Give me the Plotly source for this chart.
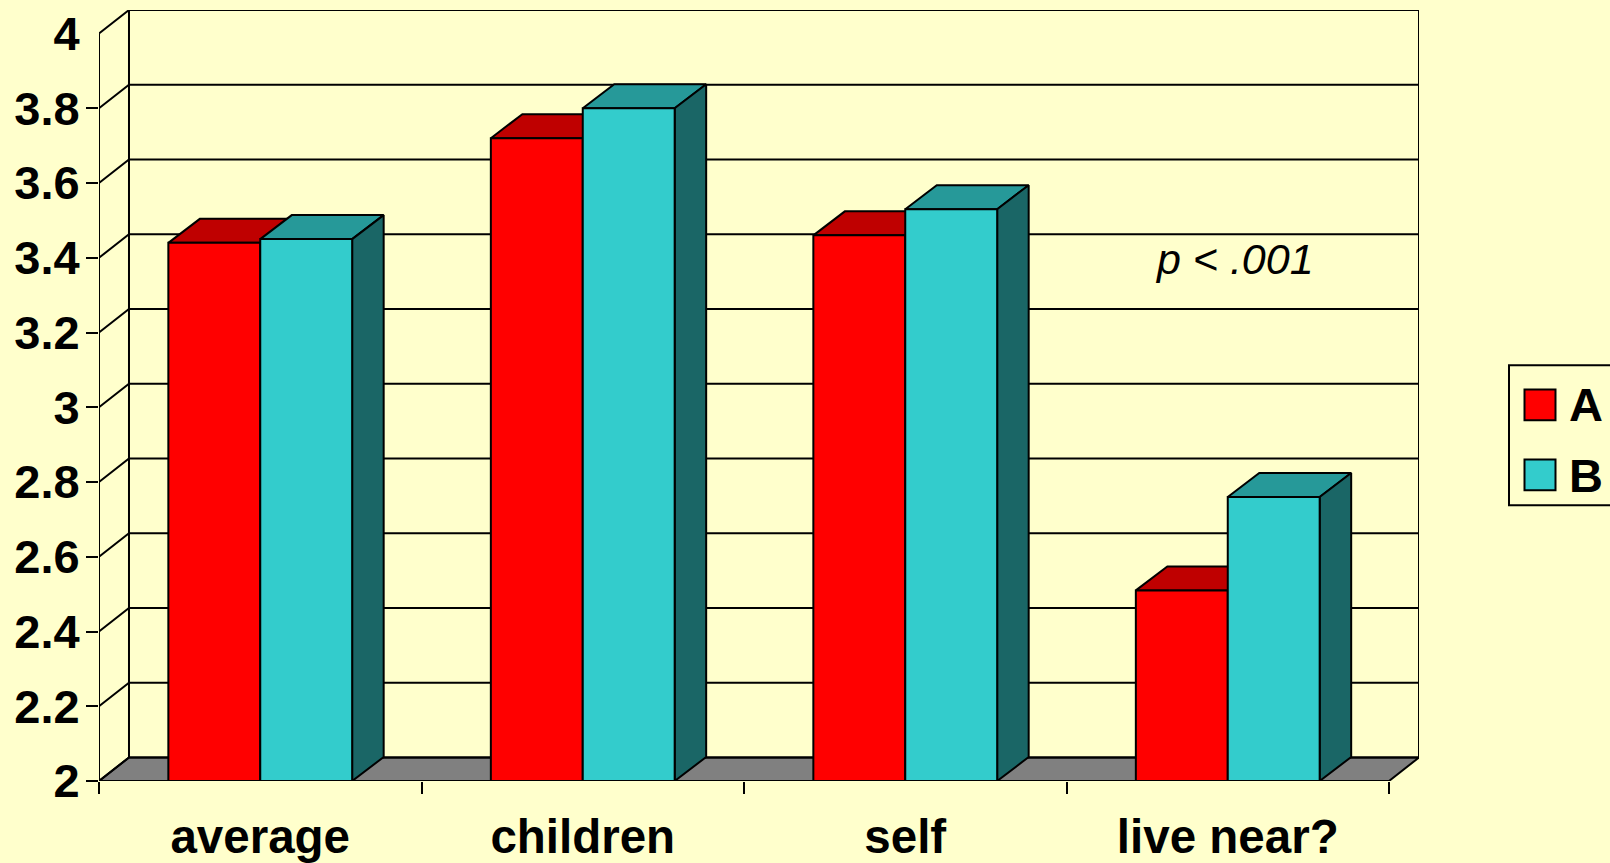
import plotly.graph_objects as go

categories = ['average', 'children', 'self', 'live near?']
series_a = [3.44, 3.72, 3.46, 2.51]
series_b = [3.45, 3.80, 3.53, 2.76]
y_ticks = [2, 2.2, 2.4, 2.6, 2.8, 3, 3.2, 3.4, 3.6, 3.8, 4]
y_labels = ['2', '2.2', '2.4', '2.6', '2.8', '3', '3.2', '3.4', '3.6', '3.8', '4']

BG = '#FFFFCC'
RED, RED_TOP = '#FF0000', '#BF0000'
TEAL, TEAL_TOP, TEAL_SIDE = '#33CCCC', '#269999', '#1A6666'
FONT = 'Liberation Sans, Arial, sans-serif'
LINE = 2

# fake 3d depth, in axis units
WALL_DX, WALL_DY = 0.093, 0.063
BAR_DX, BAR_DY = 0.0977, 0.0642
BARGAP = 0.43
BAR_W = (1 - BARGAP) / 2

x_max = len(categories)
y_min, y_max = y_ticks[0], y_ticks[-1]
centers = [i + 0.5 for i in range(x_max)]


def line_trace(xs, ys, axes=('x', 'y'), width=LINE):
    return go.Scatter(x=xs, y=ys, mode='lines', xaxis=axes[0], yaxis=axes[1],
                      line=dict(color='black', width=width), cliponaxis=False,
                      showlegend=False, hoverinfo='skip')


def faces_trace(polys, color):
    xs, ys = [], []
    for poly in polys:
        xs += [p[0] for p in poly] + [poly[0][0], None]
        ys += [p[1] for p in poly] + [poly[0][1], None]
    return go.Scatter(x=xs, y=ys, mode='lines', fill='toself', fillcolor=color,
                      line=dict(color='black', width=LINE), cliponaxis=False,
                      showlegend=False, hoverinfo='skip')


def top_faces(values, shift):
    polys = []
    for c, v in zip(centers, values):
        l, r = c + shift, c + shift + BAR_W
        polys.append([(l, v), (r, v), (r + BAR_DX, v + BAR_DY), (l + BAR_DX, v + BAR_DY)])
    return polys


def side_faces(values, shift):
    polys = []
    for c, v in zip(centers, values):
        r = c + shift + BAR_W
        polys.append([(r, v), (r + BAR_DX, v + BAR_DY), (r + BAR_DX, y_min + BAR_DY), (r, y_min)])
    return polys


fig = go.Figure()

# floor
fig.add_trace(faces_trace([[(0, y_min), (x_max, y_min),
                            (x_max + WALL_DX, y_min + WALL_DY), (WALL_DX, y_min + WALL_DY)]], '#808080'))

# walls and grid
for v in y_ticks:
    fig.add_trace(line_trace([0, WALL_DX, x_max + WALL_DX], [v, v + WALL_DY, v + WALL_DY]))
fig.add_trace(line_trace([0, 0], [y_min, y_max]))
fig.add_trace(line_trace([WALL_DX, WALL_DX], [y_min + WALL_DY, y_max + WALL_DY]))
fig.add_trace(line_trace([x_max + WALL_DX, x_max + WALL_DX], [y_min + WALL_DY, y_max + WALL_DY]))

# bar tops and sides
fig.add_trace(faces_trace(top_faces(series_a, -BAR_W), RED_TOP))
fig.add_trace(faces_trace(top_faces(series_b, 0), TEAL_TOP))
fig.add_trace(faces_trace(side_faces(series_b, 0), TEAL_SIDE))

# bar fronts sit on the overlay axes so they cover the faces above
fig.add_trace(go.Bar(x=centers, y=series_a, name='A', xaxis='x2', yaxis='y2', showlegend=False,
                     marker=dict(color=RED, line=dict(color='black', width=LINE))))
fig.add_trace(go.Bar(x=centers, y=series_b, name='B', xaxis='x2', yaxis='y2', showlegend=False,
                     marker=dict(color=TEAL, line=dict(color='black', width=LINE))))
fig.add_trace(line_trace([0, x_max], [y_min, y_min], axes=('x2', 'y2')))

x_range = [0, x_max + WALL_DX]
y_range = [y_min, y_max + WALL_DY]
y_font = dict(family=FONT, size=47, color='black', weight='bold')
x_font = dict(family=FONT, size=47.5, color='black', weight='bold')

# legend is drawn by hand, the built in swatches can't get this big
shapes = []
W, H = 1320, 770.7


def px_x(p):
    return (p - 99) / W


def px_y(p):
    return (780.7 - p) / H


shapes.append(dict(type='rect', xref='paper', yref='paper', x0=px_x(1509), x1=px_x(1625),
                   y0=px_y(505), y1=px_y(365), line=dict(color='black', width=LINE)))
for color, top, bottom in [(RED, 389.3, 420), (TEAL, 459.3, 490)]:
    shapes.append(dict(type='rect', xref='paper', yref='paper', x0=px_x(1524.5), x1=px_x(1555.5),
                       y0=px_y(bottom), y1=px_y(top), fillcolor=color, line=dict(color='black', width=LINE)))

annotations = [
    dict(x=3.522, y=3.396, xref='x', yref='y', text='<i>p &lt; .001</i>', showarrow=False,
         font=dict(family=FONT, size=43, color='black')),
    dict(x=px_x(1567), y=px_y(404), xref='paper', yref='paper', text='<b>A</b>', showarrow=False,
         xanchor='left', font=dict(family=FONT, size=47, color='black')),
    dict(x=px_x(1567), y=px_y(475), xref='paper', yref='paper', text='<b>B</b>', showarrow=False,
         xanchor='left', font=dict(family=FONT, size=47, color='black')),
]

fig.update_layout(
    width=1610, height=863,
    margin=dict(l=99, r=191, t=10, b=82.3),
    paper_bgcolor=BG, plot_bgcolor=BG,
    barmode='group', bargap=BARGAP, bargroupgap=0,
    showlegend=False,
    shapes=shapes, annotations=annotations,
    xaxis=dict(range=x_range, showgrid=False, zeroline=False, showline=False, automargin=False,
               tickmode='array', tickvals=list(range(x_max + 1)), ticktext=[''] * (x_max + 1),
               ticks='outside', ticklen=12, tickwidth=LINE, tickcolor='black'),
    # tick marks stop at 3.8, the labels live on the overlay axis
    yaxis=dict(range=y_range, showgrid=False, zeroline=False, showline=False, automargin=False,
               tickmode='array', tickvals=y_ticks[:-1], ticktext=[''] * (len(y_ticks) - 1),
               ticks='outside', ticklen=12, tickwidth=LINE, tickcolor='black'),
    xaxis2=dict(range=x_range, overlaying='x', anchor='y2', showgrid=False, zeroline=False, showline=False,
                automargin=False, tickmode='array', tickvals=centers, ticktext=categories, tickfont=x_font,
                ticks='outside', ticklen=14, tickcolor='rgba(0,0,0,0)'),
    yaxis2=dict(range=y_range, overlaying='y', anchor='x2', showgrid=False, zeroline=False, showline=False,
                automargin=False, tickmode='array', tickvals=y_ticks, ticktext=y_labels, tickfont=y_font,
                ticks='outside', ticklen=12, tickcolor='rgba(0,0,0,0)', ticklabelstandoff=-3),
)

fig.write_html('out.html', config=dict(displayModeBar=False),
               post_script="document.body.style.margin='0';document.body.style.overflow='hidden';")
